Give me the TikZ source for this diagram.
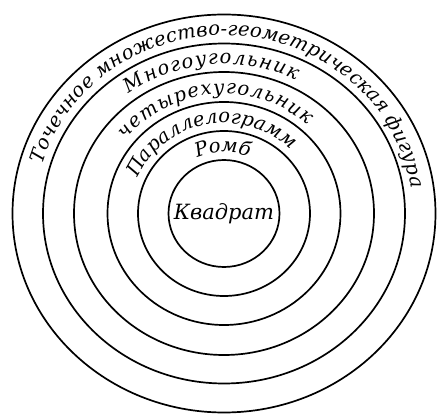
\documentclass[tikz,border=0pt]{standalone}
\usepackage{fontspec}
\setmainfont{DejaVu Serif}
\usetikzlibrary{decorations.text}
\newcommand{\ringfont}{\fontsize{19.5}{21}\selectfont\itshape}
\tikzset{
  ring/.style={draw,line width=1.7pt},
  arctext/.style={decorate,decoration={text along path,
    text align=fit to path,text={#1}}},
}

\begin{document}
\begin{tikzpicture}[x=1pt,y=1pt]
  \useasboundingbox (0,0) rectangle (437,413);
  \coordinate (c) at (224,199.5);
  % rings, inner to outer
  \draw[ring] (c) ellipse [x radius=55.5,y radius=53.5];
  \draw[ring] (c) ellipse [x radius=86,y radius=82.5];
  \draw[ring] (c) ellipse [x radius=116.5,y radius=111.5];
  \draw[ring] (c) ellipse [x radius=150,y radius=141.5];
  \draw[ring] (c) ellipse [x radius=181,y radius=170];
  \draw[ring] (c) ellipse [x radius=211.5,y radius=199];
  % names along the rings
  \path[arctext={|\ringfont|Ромб}] (c) ++(115:63.5 and 61.5)
    arc[start angle=115,end angle=71,x radius=63.5,y radius=61.5];
  \path[arctext={|\ringfont|Параллелограмм}] (c) ++(157:94 and 90.5)
    arc[start angle=157,end angle=45,x radius=94,y radius=90.5];
  \path[arctext={|\ringfont|четырехугольник}] (c) ++(142:124.5 and 119.5)
    arc[start angle=142,end angle=48,x radius=124.5,y radius=119.5];
  \path[arctext={|\ringfont|Многоугольник}] (c) ++(127:158 and 149.5)
    arc[start angle=127,end angle=63,x radius=158,y radius=149.5];
  \path[arctext={|\ringfont|Точечное множество-геометрическая фигура}] (c) ++(164:189 and 178)
    arc[start angle=164,end angle=8,x radius=189,y radius=178];
  \node[font=\fontsize{21}{23}\selectfont\itshape] (sq) at (c) {Квадрат};
\end{tikzpicture}
\end{document}
